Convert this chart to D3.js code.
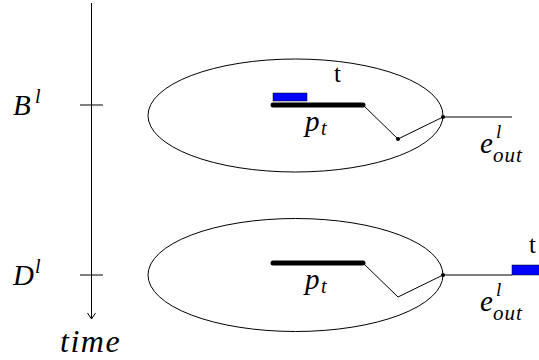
<!DOCTYPE html>
<html>
<head>
<meta charset="utf-8">
<script src="https://cdn.jsdelivr.net/npm/d3@7"></script>
</head>
<body style="margin:0">
<script>
// levels on the time axis, and where the blue token sits
var levels = ["B", "D"]
var tokenPlace = ["inside", "outside"]
var vertexDot = [true, false]

// path shape in diagram units: [x, y offset from the bar]
var pathX = [0, 90, 125, 170, 239]
var pathDy = [0, 0, 34, 12, 12]

var W = 539, H = 360

var svg = d3.select("body").append("svg")
  .attr("width", W)
  .attr("height", H)

var y = d3.scalePoint().domain(levels).range([105, 275])
var x = d3.scaleLinear().domain([0, 239]).range([273, 512])

function txt(parent, s, px, py, size, italic) {
  return parent.append("text")
    .attr("x", px).attr("y", py)
    .attr("font-size", size)
    .attr("font-style", italic ? "italic" : "normal")
    .attr("font-family", "Liberation Serif")
    .text(s)
}

// time axis
var axisX = 91.5
svg.append("line")
  .attr("x1", axisX).attr("x2", axisX)
  .attr("y1", 3).attr("y2", 318)
  .attr("stroke", "black").attr("stroke-width", 1)
svg.append("path")
  .attr("d", "M" + (axisX - 4) + ",313 L" + axisX + ",319 L" + (axisX + 4) + ",313")
  .attr("fill", "none").attr("stroke", "black").attr("stroke-width", 1)

txt(svg, "time", 60, 352, 32, true).attr("letter-spacing", 1.5)

levels.forEach(function (lv, i) {
  var cy = y(lv)
  var by = i === 0 ? cy : cy - 12   // bar height relative to level tick
  var g = svg.append("g")

  // tick + level label
  g.append("line")
    .attr("x1", 80).attr("x2", 103)
    .attr("y1", cy).attr("y2", cy)
    .attr("stroke", "black").attr("stroke-width", 1)
  txt(g, lv, 13, cy + 10, 29, true)
  txt(g, "l", 35, cy - 2, 20, true)

  // ellipse
  g.append("ellipse")
    .attr("cx", 295.5).attr("cy", i === 0 ? cy + 10.5 : cy)
    .attr("rx", 147.5).attr("ry", 56.5)
    .attr("fill", "none").attr("stroke", "black").attr("stroke-width", 1)

  var pts = pathX.map(function (px, j) { return [x(px), by + pathDy[j]] })
  if (i === 1) { pts[3][1] = cy; pts[4][1] = cy }

  g.append("path")
    .attr("d", d3.line()(pts.slice(1)))
    .attr("fill", "none").attr("stroke", "black").attr("stroke-width", 1)

  // thick p_t bar
  g.append("line")
    .attr("x1", pts[0][0]).attr("x2", pts[1][0])
    .attr("y1", pts[0][1]).attr("y2", pts[1][1])
    .attr("stroke", "black").attr("stroke-width", 5)
    .attr("stroke-linecap", "round")

  if (vertexDot[i]) {
    g.append("circle").attr("cx", pts[2][0]).attr("cy", pts[2][1]).attr("r", 2).attr("fill", "black")
  }
  g.append("circle").attr("cx", pts[3][0]).attr("cy", pts[3][1]).attr("r", 2).attr("fill", "black")

  // p_t label
  txt(g, "p", 305, pts[0][1] + 26, 29, true)
  txt(g, "t", 321, pts[0][1] + 30, 20, true)

  // e_out^l label
  var ey = pts[3][1] + 36
  txt(g, "e", 480, ey, 29, true)
  txt(g, "l", 496, ey - 15, 19, true)
  txt(g, "out", 493, ey + 9, 21, true).attr("letter-spacing", 1)

  // blue token + "t"
  if (tokenPlace[i] === "inside") {
    g.append("rect")
      .attr("x", pts[0][0]).attr("y", pts[0][1] - 12)
      .attr("width", 34).attr("height", 8)
      .attr("fill", "#0000ff").attr("stroke", "black").attr("stroke-width", 0.5)
    txt(g, "t", 334, cy - 23, 25, false)
  } else {
    g.append("rect")
      .attr("x", pts[4][0]).attr("y", pts[4][1] - 10)
      .attr("width", 34).attr("height", 10)
      .attr("fill", "#0000ff").attr("stroke", "black").attr("stroke-width", 0.5)
    txt(g, "t", 529, cy - 22, 25, false)
  }
})
</script>
</body>
</html>
